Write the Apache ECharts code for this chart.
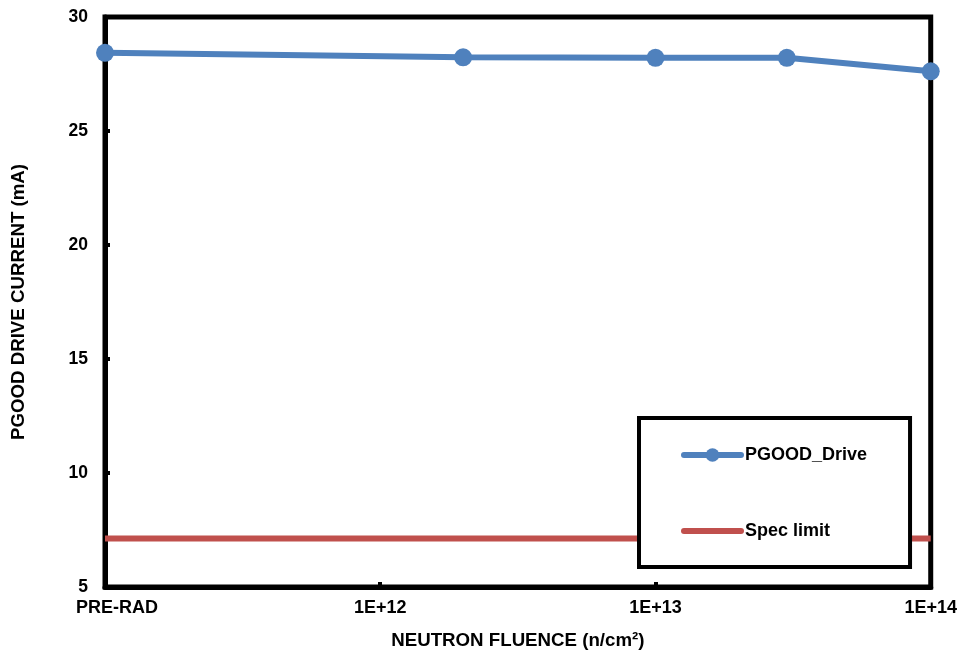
<!DOCTYPE html>
<html><head><meta charset="utf-8">
<script src="https://cdn.jsdelivr.net/npm/echarts@6/dist/echarts.min.js"></script>
<style>html,body{margin:0;padding:0;background:#fff}#c{width:960px;height:655px}</style>
</head><body><div id="c"></div>
<script>
const fluence = [1e11, 2e12, 1e13, 3e13, 1e14];
const pgoodDrive = [28.43, 28.23, 28.21, 28.21, 27.62];
const specFluence = [1e11, 1e14];
const specLimit = [7.13, 7.13];
const xTickExponents = [11, 12, 13, 14];
const xTickLabels = ['PRE-RAD', '1E+12', '1E+13', '1E+14'];

const FONT = 'Liberation Sans, Arial, sans-serif';
const chart = echarts.init(document.getElementById('c'), null, {renderer: 'canvas'});
chart.setOption({
  animation: false,
  backgroundColor: '#fff',
  grid: {left: 105, right: 28, top: 17, bottom: 65, show: true, borderColor: '#000', borderWidth: 5, backgroundColor: 'transparent'},
  legend: {
    left: 639, top: 418, orient: 'vertical',
    backgroundColor: '#fff', borderColor: '#000', borderWidth: 4, borderRadius: 0,
    padding: [28, 43, 27, 42], itemGap: 58, itemWidth: 57, itemHeight: 17,
    lineStyle: {width: 6, cap: 'round'},
    textStyle: {fontFamily: FONT, fontWeight: 'bold', fontSize: 18, color: '#000', padding: [0, 0, 0, -1]},
    data: [
      {name: 'PGOOD_Drive'},
      {name: 'Spec limit', itemStyle: {opacity: 0}}
    ]
  },
  xAxis: {
    type: 'log', logBase: 10, min: 1e11, max: 1e14,
    name: 'NEUTRON FLUENCE (n/cm²)', nameLocation: 'middle', nameGap: 44,
    nameTextStyle: {fontFamily: FONT, fontWeight: 'bold', fontSize: 18.7, color: '#000'},
    axisLine: {lineStyle: {color: '#000', width: 5}},
    axisTick: {inside: true, length: 5, lineStyle: {color: '#000', width: 4}},
    splitLine: {show: false},
    minorTick: {show: false},
    axisLabel: {
      margin: 12, color: '#000', fontFamily: FONT, fontWeight: 'bold', fontSize: 18,
      formatter: function (v) {
        const e = Math.round(Math.log10(v));
        const i = xTickExponents.indexOf(e);
        if (i < 0) return '';
        return i === 0 ? '{pre|' + xTickLabels[0] + '}' : xTickLabels[i];
      },
      rich: {pre: {fontFamily: FONT, fontWeight: 'bold', fontSize: 18, color: '#000', padding: [0, 0, 0, 24]}}
    }
  },
  yAxis: {
    type: 'value', min: 5, max: 30, interval: 5,
    name: 'PGOOD DRIVE CURRENT (mA)', nameLocation: 'middle', nameGap: 77,
    nameTextStyle: {fontFamily: FONT, fontWeight: 'bold', fontSize: 18.7, color: '#000'},
    axisLine: {show: true, lineStyle: {color: '#000', width: 5}},
    axisTick: {show: true, inside: true, length: 5, lineStyle: {color: '#000', width: 4}},
    splitLine: {show: false},
    axisLabel: {margin: 17, color: '#000', fontFamily: FONT, fontWeight: 'bold', fontSize: 17.5}
  },
  series: [
    {
      name: 'PGOOD_Drive', type: 'line', clip: false,
      data: fluence.map((x, i) => [x, pgoodDrive[i]]),
      symbol: 'circle', symbolSize: 18,
      lineStyle: {color: '#4F81BD', width: 6},
      itemStyle: {color: '#4F81BD'},
      z: 3
    },
    {
      name: 'Spec limit', type: 'line', clip: false,
      data: specFluence.map((x, i) => [x, specLimit[i]]),
      symbol: 'none',
      lineStyle: {color: '#C0504D', width: 6},
      itemStyle: {color: '#C0504D'},
      z: 2
    }
  ]
});
</script></body></html>
